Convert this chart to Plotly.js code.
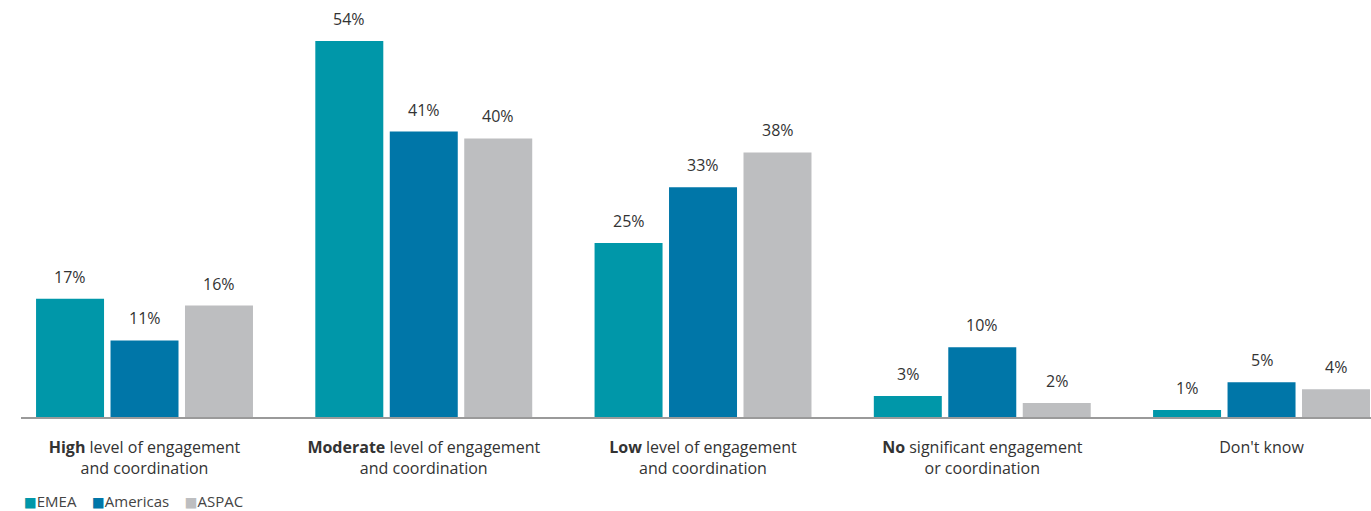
<!DOCTYPE html>
<html>
<head>
<meta charset="utf-8">
<script src="https://cdn.plot.ly/plotly-3.0.1.min.js"></script>
<style>html,body{margin:0;padding:0;background:#fff;}#chart{width:1371px;height:511px;}</style>
</head>
<body>
<div id="chart"></div>
<script>
const categories = [
  "<b>High</b> level of engagement<br>and coordination",
  "<b>Moderate</b> level of engagement<br>and coordination",
  "<b>Low</b> level of engagement<br>and coordination",
  "<b>No</b> significant engagement<br>or coordination",
  "Don't know"
];
const seriesNames = ["EMEA", "Americas", "ASPAC"];
const emea = [17, 54, 25, 3, 1];
const americas = [11, 41, 33, 10, 5];
const aspac = [16, 40, 38, 2, 4];
const colors = ["#0097A9", "#0076A8", "#BDBEC0"];

const seriesValues = [emea, americas, aspac];
const textColor = "#333333";
const fontFamily = "'Open Sans', sans-serif";

const traces = seriesValues.map((vals, s) => ({
  type: "bar",
  name: seriesNames[s],
  x: categories,
  y: vals,
  marker: { color: colors[s] },
  hoverinfo: "skip",
  showlegend: false
}));

// value labels above bars (group offset derived from bar slot width)
const slotPx = 74.5;
const annotations = [];
seriesValues.forEach((vals, s) => {
  vals.forEach((v, i) => {
    annotations.push({
      x: categories[i], y: v, xref: "x", yref: "y",
      text: v + "%", showarrow: false,
      yanchor: "middle", yshift: 22, xshift: (s - 1) * slotPx,
      font: { family: fontFamily, size: 16, color: textColor }
    });
  });
});

// legend row
const legendText = seriesNames.map((n, s) =>
  '<span style="color:' + colors[s] + ';font-family:\'DejaVu Sans\';font-size:13.5px">\u25A0</span>' + n
).join("\u00A0\u00A0\u00A0\u00A0");
annotations.push({
  x: 0, y: 0, xref: "paper", yref: "paper",
  xanchor: "left", yanchor: "middle", xshift: 1, yshift: -84,
  text: legendText, showarrow: false,
  font: { family: fontFamily, size: 15, color: "#444444" }
});

const layout = {
  width: 1371, height: 511,
  margin: { l: 21, r: 0, t: 10, b: 94 },
  paper_bgcolor: "#ffffff", plot_bgcolor: "#ffffff",
  barmode: "group", bargap: 0.2, bargroupgap: 0.087,
  font: { family: fontFamily, size: 16, color: textColor },
  xaxis: {
    type: "category",
    range: [-0.4423, 4.392],
    showline: true, linecolor: "#9a9a9a", linewidth: 1.5,
    ticks: "", showgrid: false, zeroline: false,
    ticklabelstandoff: 15,
    tickfont: { family: fontFamily, size: 16, color: textColor },
    fixedrange: true
  },
  yaxis: {
    range: [0, 58.45],
    visible: false, showgrid: false, zeroline: false, fixedrange: true
  },
  annotations: annotations,
  showlegend: false
};

Plotly.newPlot("chart", traces, layout, { displayModeBar: false, staticPlot: true });
</script>
</body>
</html>
